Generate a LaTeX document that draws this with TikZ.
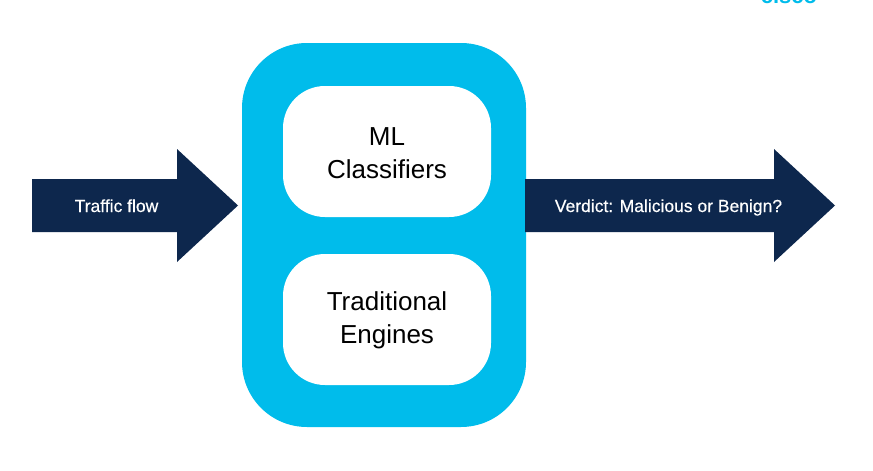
\documentclass[tikz,border=0pt]{standalone}
\usepackage{fontspec}
\setmainfont{Liberation Sans}
\newfontfamily\arrowfont[FakeBold=0.4]{Liberation Sans}
\definecolor{ciscoblue}{HTML}{00BCEB}
\definecolor{navyarrow}{HTML}{0D274D}
\tikzset{
  outerbox/.style={fill=ciscoblue,draw=none,rounded corners=65pt},
  innerbox/.style={fill=white,draw=none,rounded corners=42pt},
  flowarrow/.style={fill=navyarrow,draw=none},
  arrowlabel/.style={text=white,font=\arrowfont\fontsize{17.5pt}{21pt}\selectfont,inner sep=0pt,anchor=base},
  boxlabel/.style={text=black,font=\fontsize{26pt}{33pt}\selectfont,align=center,inner sep=0pt,anchor=center},
  logo/.style={text=ciscoblue,font=\bfseries\fontsize{22pt}{22pt}\selectfont,inner sep=0pt,anchor=base}
}
\begin{document}
\begin{tikzpicture}[x=1pt,y=-1pt]
\useasboundingbox (0,0) rectangle (873,471);
\fill[white] (0,0) rectangle (873,471);
\begin{scope}
\clip (0,0) rectangle (873,471);
\node[logo] (cisco) at (789,4) {cisco};
\end{scope}
\path[outerbox] (242,43) rectangle (526,427);
\path[innerbox] (283,86) rectangle (491,217);
\path[innerbox] (283,254) rectangle (491,385);
\path[flowarrow] (32,179) -- (177,179) -- (177,149) -- (238,205.5) -- (177,262) -- (177,232) -- (32,232) -- cycle;
\path[flowarrow] (525,179) -- (774,179) -- (774,149) -- (835,205.5) -- (774,262) -- (774,232) -- (525,232) -- cycle;
\node[arrowlabel] (traffic) at (116.5,212) {Traffic flow};
\node[arrowlabel] (verdict) at (668.5,212) {Verdict: Malicious or Benign?};
\node[boxlabel] (ml) at (387,153.5) {ML\\Classifiers};
\node[boxlabel] (trad) at (387,320.5) {Traditional\\Engines};
\end{tikzpicture}
\end{document}
